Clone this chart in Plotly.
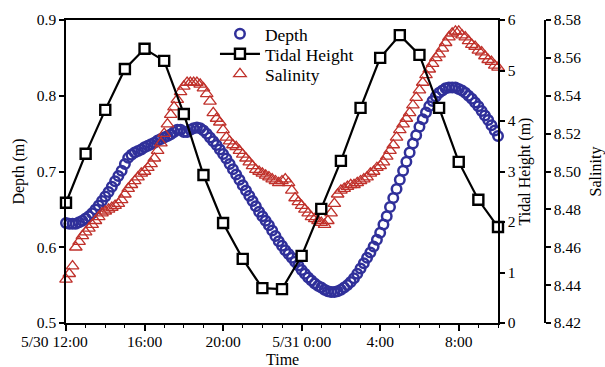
import pandas as pd
import plotly.graph_objects as go

# ---- data ----
tide_start = "2015-05-30 12:00"
tidal_height = [2.38, 3.35, 4.22, 5.03, 5.43, 5.19, 4.14, 2.93, 1.98, 1.27, 0.69, 0.67,
                1.33, 2.26, 3.21, 4.26, 5.25, 5.70, 5.31, 4.26, 3.19, 2.44, 1.90]

# 10-minute samples from 5/30 12:00 to 5/31 10:00
depth = [
    0.632, 0.631, 0.631, 0.631, 0.633, 0.635,
    0.638, 0.641, 0.645, 0.650, 0.655, 0.661,
    0.667, 0.673, 0.680, 0.687, 0.694, 0.701,
    0.710, 0.718, 0.722, 0.725, 0.727, 0.729,
    0.732, 0.734, 0.736, 0.738, 0.741, 0.743,
    0.745, 0.747, 0.749, 0.752, 0.755, 0.755,
    0.752, 0.752, 0.755, 0.757, 0.758, 0.757,
    0.754, 0.750, 0.745, 0.740, 0.735, 0.729,
    0.723, 0.717, 0.710, 0.703, 0.696, 0.689,
    0.682, 0.675, 0.668, 0.661, 0.654, 0.647,
    0.641, 0.635, 0.629, 0.622, 0.615, 0.608,
    0.602, 0.596, 0.591, 0.586, 0.581, 0.576,
    0.570, 0.565, 0.560, 0.556, 0.552, 0.549,
    0.547, 0.544, 0.542, 0.541, 0.541, 0.542,
    0.544, 0.547, 0.550, 0.554, 0.559, 0.565,
    0.572, 0.579, 0.586, 0.593, 0.601, 0.610,
    0.619, 0.630, 0.641, 0.653, 0.665, 0.677,
    0.689, 0.701, 0.713, 0.725, 0.737, 0.748,
    0.759, 0.769, 0.778, 0.786, 0.793, 0.799,
    0.804, 0.807, 0.810, 0.811, 0.811, 0.811,
    0.809, 0.807, 0.804, 0.800, 0.796, 0.791,
    0.786, 0.780, 0.774, 0.768, 0.761, 0.754,
    0.747,
]
salinity = [
    8.443, 8.446, 8.450, 8.460, 8.463, 8.466,
    8.468, 8.470, 8.472, 8.474, 8.476, 8.478,
    8.479, 8.480, 8.481, 8.482, 8.483, 8.485,
    8.488, 8.491, 8.493, 8.495, 8.497, 8.499,
    8.500, 8.502, 8.504, 8.507, 8.511, 8.515,
    8.520, 8.525, 8.530, 8.534, 8.538, 8.542,
    8.545, 8.547, 8.547, 8.547, 8.547, 8.546,
    8.544, 8.541, 8.537, 8.531, 8.528, 8.526,
    8.522, 8.518, 8.516, 8.514, 8.513, 8.511,
    8.509, 8.507, 8.505, 8.503, 8.501, 8.500,
    8.499, 8.498, 8.497, 8.496, 8.495, 8.494,
    8.495, 8.496, 8.494, 8.490, 8.486, 8.484,
    8.482, 8.480, 8.478, 8.476, 8.475, 8.474,
    8.473, 8.472, 8.474, 8.478, 8.483, 8.488,
    8.490, 8.491, 8.492, 8.493, 8.493, 8.494,
    8.495, 8.496, 8.497, 8.499, 8.500, 8.502,
    8.503, 8.505, 8.508, 8.511, 8.514, 8.518,
    8.522, 8.525, 8.528, 8.531, 8.535, 8.539,
    8.543, 8.547, 8.551, 8.554, 8.557, 8.560,
    8.562, 8.565, 8.568, 8.571, 8.573, 8.574,
    8.574, 8.572, 8.571, 8.569, 8.567, 8.566,
    8.564, 8.563, 8.561, 8.559, 8.558, 8.556,
    8.555,
]

x_tick_vals = ["2015-05-30 12:00", "2015-05-30 16:00", "2015-05-30 20:00",
               "2015-05-31 00:00", "2015-05-31 04:00", "2015-05-31 08:00"]
x_tick_text = ["5/30 12:00" + "\u00a0" * 6, "16:00", "20:00", "5/31 0:00", "4:00", "8:00"]

tide_times = pd.date_range(tide_start, periods=len(tidal_height), freq="1h")
sample_times = pd.date_range(tide_start, periods=len(depth), freq="10min")

FONT = "Liberation Serif, Times New Roman, serif"
BLUE = "#30309a"
RED = "#c0312b"
TICK_SIZE = 15.5
TITLE_SIZE = 16
LEGEND_SIZE = 17.5

fig = go.Figure()
fig.add_trace(go.Scatter(
    x=sample_times, y=depth, name="Depth", mode="markers", yaxis="y", legend="legend",
    marker=dict(symbol="circle-open", size=9.5, color=BLUE, line=dict(width=2.5, color=BLUE)),
    cliponaxis=False))
fig.add_trace(go.Scatter(
    x=sample_times, y=salinity, name="Salinity", mode="markers", yaxis="y2", legend="legend3",
    marker=dict(symbol="triangle-up-open", size=11, color=RED, line=dict(width=1.3, color=RED)),
    cliponaxis=False))
fig.add_trace(go.Scatter(
    x=tide_times, y=tidal_height, name="Tidal Height", mode="lines+markers", yaxis="y3",
    legend="legend2",
    line=dict(color="black", width=2.2),
    marker=dict(symbol="square", size=10, color="white", line=dict(width=2.4, color="black")),
    cliponaxis=False))

axis_common = dict(showgrid=False, zeroline=False, showline=True, linecolor="black",
                   linewidth=1.5, ticks="outside", tickwidth=1.5, automargin=False,
                   tickcolor="black", tickfont=dict(family=FONT, size=TICK_SIZE, color="black"))

legend_common = dict(x=0.311, xanchor="left", yanchor="middle", itemwidth=40,
                     bgcolor="rgba(0,0,0,0)", font=dict(family=FONT, size=LEGEND_SIZE),
                     itemsizing="trace")

fig.update_layout(
    width=605, height=367,
    margin=dict(l=66, r=60, t=20, b=44, autoexpand=False),
    paper_bgcolor="white", plot_bgcolor="white",
    font=dict(family=FONT, size=TICK_SIZE, color="black"),
    showlegend=True,
    legend=dict(y=0.954, **legend_common),
    legend2=dict(y=0.888, **legend_common),
    legend3=dict(y=0.822, **legend_common),
    xaxis=dict(
        domain=[0, 432 / 479],
        range=["2015-05-30 12:00", "2015-05-31 10:00"],
        tickmode="array", tickvals=x_tick_vals, ticktext=x_tick_text,
        mirror=True, ticklen=6, ticklabelstandoff=-2,
        minor=dict(tickmode="linear", tick0="2015-05-30 12:00", dtick=3600000,
                   ticks="outside", ticklen=3, tickwidth=1.2, tickcolor="black"),
        **axis_common,
    ),
    yaxis=dict(
        range=[0.5, 0.9], dtick=0.1, tickformat=".1f", ticklen=5,
        title=dict(text="Depth (m)", font=dict(family=FONT, size=TITLE_SIZE), standoff=8),
        **axis_common,
    ),
    yaxis2=dict(
        range=[8.42, 8.58], dtick=0.02, tickformat=".2f", ticklen=5,
        overlaying="y", side="right", anchor="free", position=1.0,
        title=dict(text="Salinity", font=dict(family=FONT, size=TITLE_SIZE), standoff=9),
        **axis_common,
    ),
    yaxis3=dict(
        range=[0, 6], dtick=1, tickformat="d", ticklen=5,
        overlaying="y", side="right", anchor="x",
        title=dict(text="Tidal Height (m)", font=dict(family=FONT, size=TITLE_SIZE), standoff=3),
        **axis_common,
    ),
    annotations=[dict(
        text="Time", xref="x domain", yref="paper", x=0.5, y=-0.121,
        xanchor="center", yanchor="middle", showarrow=False,
        font=dict(family=FONT, size=TITLE_SIZE, color="black"))],
)

fig.write_html("out.html")
